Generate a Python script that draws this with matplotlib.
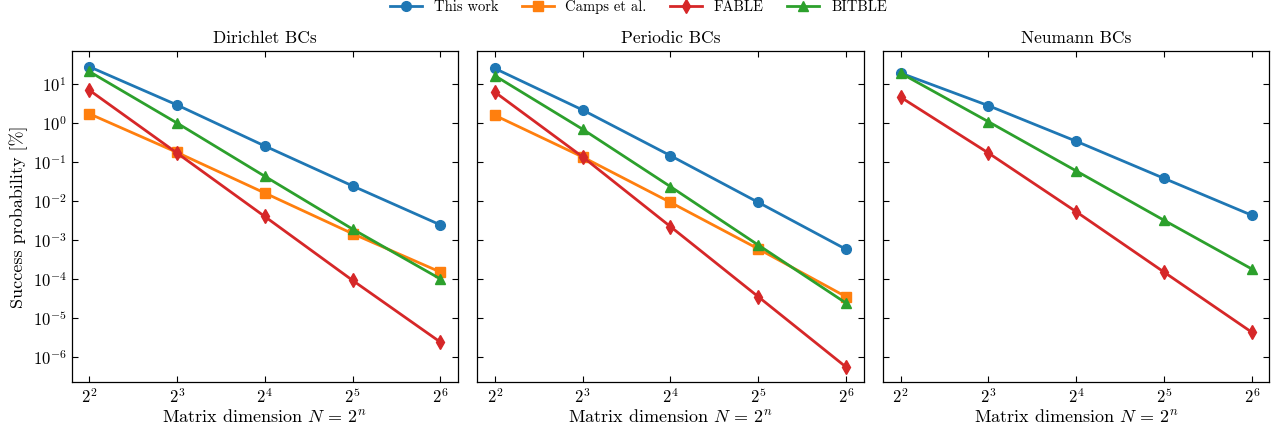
import numpy as np
import matplotlib
matplotlib.use("Agg")
import matplotlib.pyplot as plt
from matplotlib.ticker import FixedLocator, LogFormatterSciNotation, NullLocator

plt.rcParams.update({
    "font.family": "cmr10",
    "mathtext.fontset": "cm",
    "axes.formatter.use_mathtext": True,
    "font.size": 12,
    "xtick.direction": "in",
    "ytick.direction": "in",
    "xtick.top": True,
    "ytick.right": True,
    "xtick.major.size": 4,
    "ytick.major.size": 4,
    "axes.linewidth": 0.9,
})

# matrix dimension N = 2^n
N = [4, 8, 16, 32, 64]
y_decades = [1e-6, 1e-5, 1e-4, 1e-3, 1e-2, 1e-1, 1e0, 1e1]

methods = ["This work", "Camps et al.", "FABLE", "BITBLE"]
colors = ["#1f77b4", "#ff7f0e", "#d62728", "#2ca02c"]
markers = ["o", "s", "d", "^"]

# success probabilities in percent
dirichlet_this = [27.8, 2.9, 0.257, 0.0243, 0.00243]
dirichlet_camps = [1.73, 0.176, 0.016, 0.00145, 1.5e-4]
dirichlet_fable = [7.0, 0.17, 0.004, 9.2e-5, 2.4e-6]
dirichlet_bitble = [21.0, 1.0, 0.043, 0.0019, 1.0e-4]

periodic_this = [25.0, 2.15, 0.145, 0.0092, 5.75e-4]
periodic_camps = [1.57, 0.134, 0.0092, 5.9e-4, 3.5e-5]
periodic_fable = [6.2, 0.135, 0.0022, 3.5e-5, 5.5e-7]
periodic_bitble = [16.3, 0.69, 0.0233, 7.4e-4, 2.4e-5]

neumann_this = [19.1, 2.78, 0.34, 0.038, 0.0043]
neumann_fable = [4.6, 0.17, 0.0053, 1.5e-4, 4.3e-6]
neumann_bitble = [19.0, 1.08, 0.059, 0.0032, 1.8e-4]

panels = [
    ("Dirichlet BCs", [dirichlet_this, dirichlet_camps, dirichlet_fable, dirichlet_bitble]),
    ("Periodic BCs", [periodic_this, periodic_camps, periodic_fable, periodic_bitble]),
    ("Neumann BCs", [neumann_this, None, neumann_fable, neumann_bitble]),
]

fig, axes = plt.subplots(1, 3, figsize=(12.77, 4.29), dpi=100, sharey=True)
fig.subplots_adjust(left=0.056, right=0.994, bottom=0.11, top=0.88, wspace=0.05)

for ax, (title, series) in zip(axes, panels):
    for name, col, mk, vals in zip(methods, colors, markers, series):
        if vals is None:
            continue
        ax.plot(N, vals, color=col, marker=mk, markersize=7, linewidth=2, label=name)
    ax.set_xscale("log", base=2)
    ax.set_yscale("log")
    ax.set_xlim(2 ** 1.8, 2 ** 6.2)
    ax.set_ylim(2.3e-7, 68)
    ax.xaxis.set_major_locator(FixedLocator(N))
    ax.xaxis.set_major_formatter(LogFormatterSciNotation(base=2))
    ax.xaxis.set_minor_locator(NullLocator())
    ax.yaxis.set_major_locator(FixedLocator(y_decades))
    ax.yaxis.set_major_formatter(LogFormatterSciNotation(base=10))
    ax.yaxis.set_minor_locator(NullLocator())
    ax.set_title(title, fontsize=12.5)
    ax.set_xlabel(r"Matrix dimension $N\,=\,2^n$", fontsize=13, labelpad=1)

axes[0].set_ylabel(r"Success probability [%]", fontsize=13, labelpad=3)

handles, labels = axes[0].get_legend_handles_labels()
fig.legend(handles, labels, loc="upper center", ncol=4, frameon=False,
           bbox_to_anchor=(0.5, 1.03), fontsize=10.5, columnspacing=1.6,
           handlelength=2.2)

fig.savefig("out.png", dpi=100)
